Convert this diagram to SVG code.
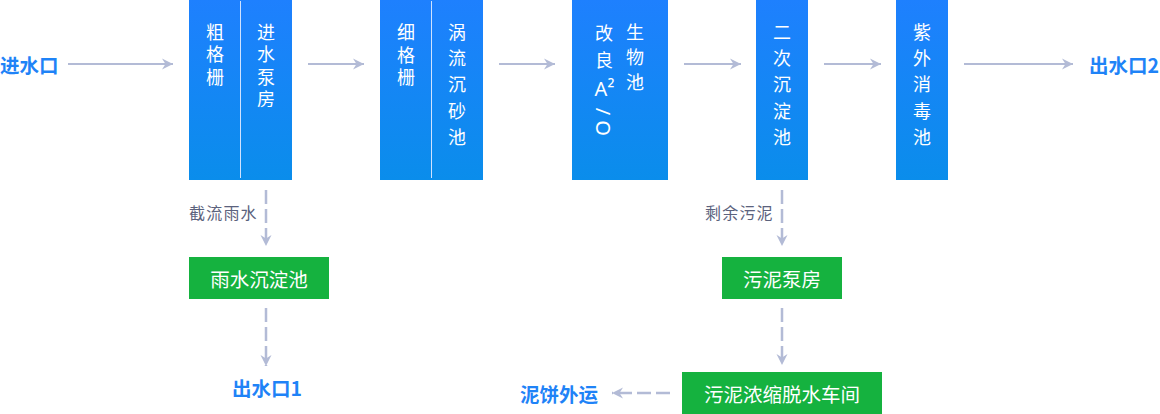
<svg xmlns="http://www.w3.org/2000/svg" width="1160" height="414" viewBox="0 0 1160 414">
  <defs>
    <linearGradient id="procFill" x1="0" y1="0" x2="0" y2="1">
      <stop offset="0" stop-color="#1e80fe"/>
      <stop offset="1" stop-color="#0a8deb"/>
    </linearGradient>
    <marker id="arrowHead" markerUnits="userSpaceOnUse" viewBox="0 -6 12 12" markerWidth="12" markerHeight="12" refX="11" refY="0" orient="auto">
      <path d="M0,-5.5 L11,0 L0,5.5 L3.5,0 Z" fill="#b3bbd6"/>
    </marker>
  </defs>
  <style>
    .proc { fill: url(#procFill); }
    .split { stroke: #cfe2ff; stroke-width: 1; }
    .store { fill: #15b23f; }
    /* one glyph per text, set vertically: y is the top of the glyph's em box */
    .vch { font-family: "Noto Sans CJK SC", "Noto Sans", sans-serif; font-size: 18px; fill: #ffffff; writing-mode: vertical-rl; text-orientation: upright; }
    .lat { font-family: "Noto Sans", "Liberation Sans", sans-serif; font-size: 20px; fill: #ffffff; text-anchor: middle; dominant-baseline: central; }
    .stxt { font-family: "Noto Sans CJK SC", sans-serif; font-size: 19.5px; fill: #ffffff; text-anchor: middle; dominant-baseline: central; }
    .term { font-family: "Noto Sans CJK SC", sans-serif; font-size: 19.5px; font-weight: bold; fill: #1f83f7; dominant-baseline: central; }
    .note { font-family: "Noto Sans CJK SC", sans-serif; font-size: 16px; fill: #5b627d; letter-spacing: 1.2px; dominant-baseline: central; }
    .flow { stroke: #b3bbd6; stroke-width: 2; fill: none; marker-end: url(#arrowHead); }
    .dash { stroke-dasharray: 14 5; stroke-width: 2.5; }
  </style>

  <!-- terminals -->
  <g id="inlet"><text class="term" x="0" y="64">进水口</text></g>
  <g id="outlet2"><text class="term" x="1089" y="64">出水口2</text></g>
  <g id="outlet1"><text class="term" x="232" y="387">出水口1</text></g>
  <g id="cake"><text class="term" x="520" y="393">泥饼外运</text></g>

  <!-- coarse screen + inlet pump house -->
  <g id="coarse-screen">
    <rect class="proc" x="189" y="0" width="103" height="180"/>
    <line class="split" x1="240.5" y1="1" x2="240.5" y2="178"/>
    <text class="vch" x="215" y="23">粗</text>
    <text class="vch" x="215" y="45.5">格</text>
    <text class="vch" x="215" y="68">栅</text>
    <text class="vch" x="266" y="23">进</text>
    <text class="vch" x="266" y="45.5">水</text>
    <text class="vch" x="266" y="68">泵</text>
    <text class="vch" x="266" y="90.5">房</text>
  </g>

  <!-- fine screen + vortex grit chamber -->
  <g id="fine-screen">
    <rect class="proc" x="380" y="0" width="103" height="180"/>
    <line class="split" x1="431.5" y1="1" x2="431.5" y2="178"/>
    <text class="vch" x="406" y="23">细</text>
    <text class="vch" x="406" y="46">格</text>
    <text class="vch" x="406" y="68.5">栅</text>
    <text class="vch" x="457" y="23">涡</text>
    <text class="vch" x="457" y="49.3">流</text>
    <text class="vch" x="457" y="75.6">沉</text>
    <text class="vch" x="457" y="101.9">砂</text>
    <text class="vch" x="457" y="128.2">池</text>
  </g>

  <!-- improved A2/O bio tank -->
  <g id="bio-tank">
    <rect class="proc" x="572" y="0" width="96" height="180"/>
    <text class="vch" x="604" y="24">改</text>
    <text class="vch" x="604" y="51">良</text>
    <text class="lat" x="604.5" y="88">A²</text>
    <text class="lat" transform="translate(603,111.5) rotate(90)" x="0" y="0">/</text>
    <text class="lat" transform="translate(603,128) rotate(90)" x="0" y="0">O</text>
    <text class="vch" x="635" y="23.5">生</text>
    <text class="vch" x="635" y="48.5">物</text>
    <text class="vch" x="635" y="73.5">池</text>
  </g>

  <!-- secondary clarifier -->
  <g id="clarifier">
    <rect class="proc" x="756" y="0" width="52" height="180"/>
    <text class="vch" x="782" y="23">二</text>
    <text class="vch" x="782" y="49.3">次</text>
    <text class="vch" x="782" y="75.6">沉</text>
    <text class="vch" x="782" y="101.9">淀</text>
    <text class="vch" x="782" y="128.2">池</text>
  </g>

  <!-- UV disinfection -->
  <g id="uv-tank">
    <rect class="proc" x="896" y="0" width="52" height="180"/>
    <text class="vch" x="922" y="23">紫</text>
    <text class="vch" x="922" y="49.3">外</text>
    <text class="vch" x="922" y="75.6">消</text>
    <text class="vch" x="922" y="101.9">毒</text>
    <text class="vch" x="922" y="128.2">池</text>
  </g>

  <!-- storm tank -->
  <g id="storm-tank">
    <rect class="store" x="189" y="257" width="140" height="42"/>
    <text class="stxt" x="259" y="278">雨水沉淀池</text>
  </g>

  <!-- sludge pump house -->
  <g id="sludge-pump">
    <rect class="store" x="722" y="257" width="120" height="42"/>
    <text class="stxt" x="782" y="278">污泥泵房</text>
  </g>

  <!-- sludge thickening / dewatering -->
  <g id="dewatering">
    <rect class="store" x="682" y="372" width="200" height="42"/>
    <text class="stxt" x="782" y="393">污泥浓缩脱水车间</text>
  </g>

  <!-- connectors -->
  <g id="connectors">
    <line class="flow" x1="68" y1="64" x2="173" y2="64"/>
    <line class="flow" x1="308" y1="64" x2="364" y2="64"/>
    <line class="flow" x1="499" y1="64" x2="555" y2="64"/>
    <line class="flow" x1="684" y1="64" x2="741" y2="64"/>
    <line class="flow" x1="824" y1="64" x2="881" y2="64"/>
    <line class="flow" x1="964" y1="64" x2="1073" y2="64"/>

    <line class="flow dash" x1="266" y1="190" x2="266" y2="246"/>
    <line class="flow dash" x1="266" y1="308" x2="266" y2="366"/>
    <line class="flow dash" x1="782" y1="190" x2="782" y2="246"/>
    <line class="flow dash" x1="782" y1="308" x2="782" y2="365"/>
    <line class="flow dash" x1="670" y1="393" x2="612" y2="393"/>

    <text class="note" x="189" y="212">截流雨水</text>
    <text class="note" x="705" y="212">剩余污泥</text>
  </g>
</svg>
